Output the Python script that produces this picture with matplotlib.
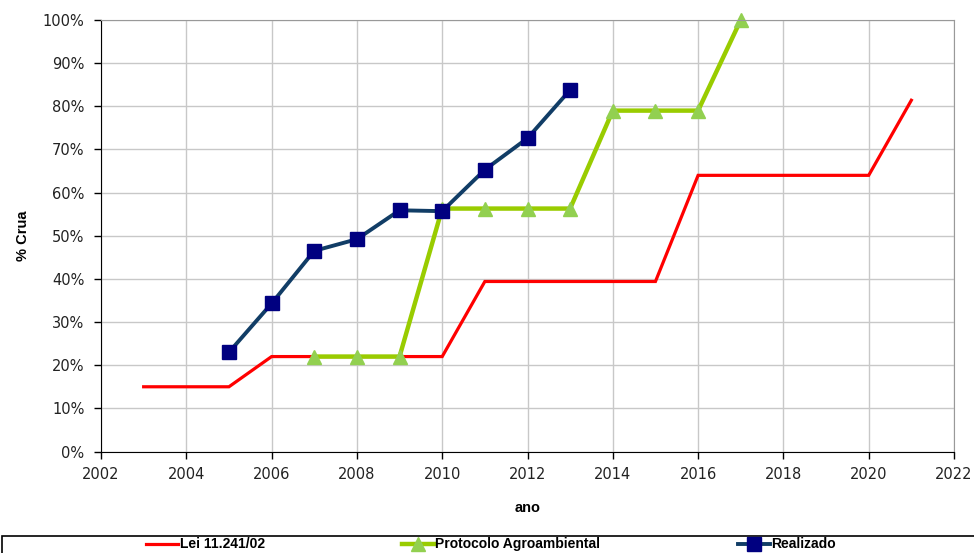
import matplotlib
matplotlib.use("Agg")
import matplotlib.pyplot as plt
from matplotlib.patches import Rectangle
from matplotlib.ticker import FuncFormatter

plt.rcParams['font.family'] = ['Liberation Sans', 'DejaVu Sans']

# Lei 11.241/02
lei_anos = [2003, 2005, 2006, 2010, 2011, 2015, 2016, 2020, 2021]
lei_vals = [15, 15, 22, 22, 39.4, 39.4, 64, 64, 81.4]

# Protocolo Agroambiental
prot_anos = [2007, 2008, 2009, 2010, 2011, 2012, 2013, 2014, 2015, 2016, 2017]
prot_vals = [22, 22, 22, 56.3, 56.3, 56.3, 56.3, 79, 79, 79, 100]

# Realizado
real_anos = [2005, 2006, 2007, 2008, 2009, 2010, 2011, 2012, 2013]
real_vals = [23, 34.3, 46.5, 49.2, 55.9, 55.7, 65.3, 72.6, 83.8]

fig = plt.figure(figsize=(9.74, 5.53), dpi=100)
ax = fig.add_axes([101/974, (553-451.5)/553, (954-101)/974, (451.5-20)/553])

ax.plot(lei_anos, lei_vals, color='#FF0000', lw=2.3, label='Lei 11.241/02',
        solid_joinstyle='miter', clip_on=False)
ax.plot(prot_anos, prot_vals, color='#99CC00', lw=3.2, marker='^', ms=10,
        mfc='#92D050', mec='#92D050', label='Protocolo Agroambiental', clip_on=False)
ax.plot(real_anos, real_vals, color='#113D66', lw=2.8, marker='s', ms=10,
        mfc='#000080', mec='#000080', label='Realizado', clip_on=False)

ax.set_xlim(2002, 2022)
ax.set_ylim(0, 100)
ax.set_xticks(range(2002, 2023, 2))
ax.set_yticks(range(0, 101, 10))
ax.yaxis.set_major_formatter(FuncFormatter(lambda v, p: '%d%%' % v))
ax.grid(True, color='#C8C8C8', lw=1)
ax.set_axisbelow(True)
ax.tick_params(direction='out', length=5, width=1, labelsize=10.5, colors='black')
ax.tick_params(axis='y', pad=7)
ax.tick_params(axis='x', pad=6)
for lab in ax.get_xticklabels() + ax.get_yticklabels():
    lab.set_family('DejaVu Sans')
    lab.set_color('#222222')
for s in ['top', 'right']:
    ax.spines[s].set_color('#999999')
for s in ['left', 'bottom']:
    ax.spines[s].set_color('black')

ax.set_xlabel('ano', fontsize=10.5, fontweight='bold', labelpad=14)
ax.set_ylabel('% Crua', fontsize=10.5, fontweight='bold', labelpad=9)

# moldura da legenda
fig.patches.append(Rectangle((2/974, -0.05), 1.0, 0.05 + (553-536)/553,
                             transform=fig.transFigure, fill=False,
                             ec='black', lw=1.2))
fig.legend(loc='upper center', bbox_to_anchor=(491/974, (553-536)/553 + 0.02),
           ncol=3, frameon=False,
           prop={'weight': 'bold', 'size': 10},
           columnspacing=9.9, handlelength=2.3, handletextpad=0.1)

fig.savefig('out.png', dpi=100)
